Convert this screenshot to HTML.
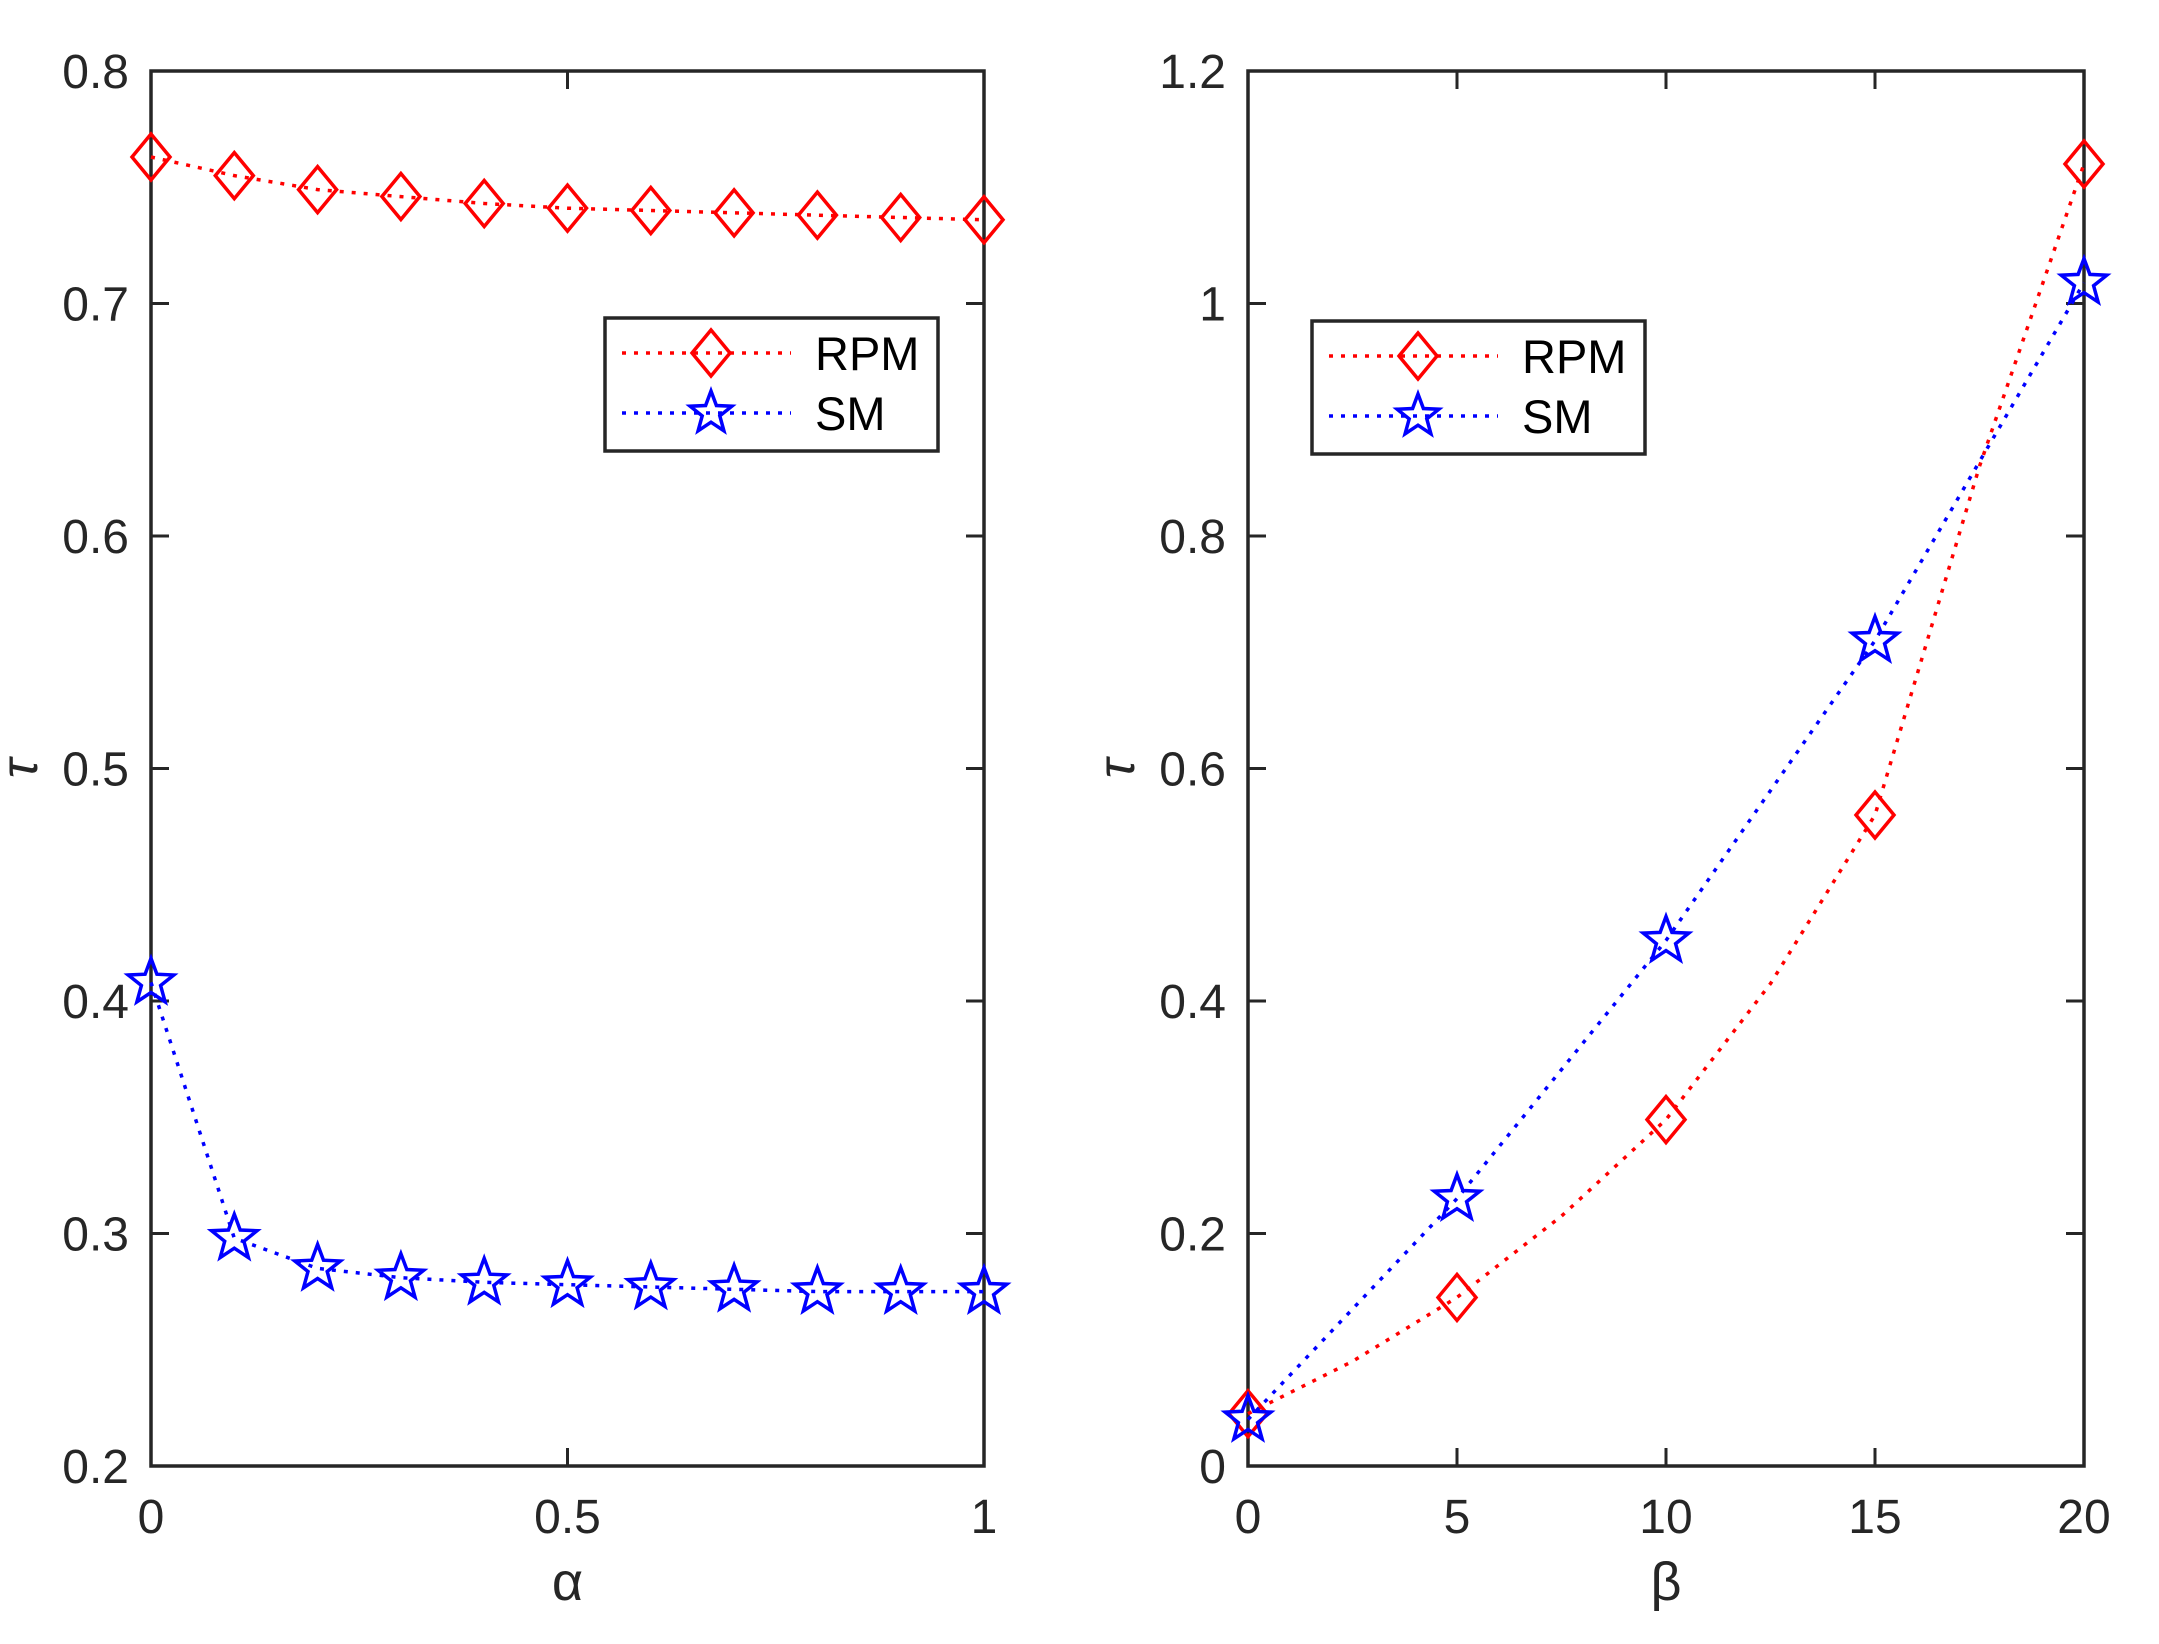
<!DOCTYPE html>
<html><head><meta charset="utf-8"><style>
html,body{margin:0;padding:0;background:#fff;}
svg{display:block;}
text{font-family:"Liberation Sans",Arial,sans-serif;fill:#262626;}
</style></head><body>
<svg id="s" width="2159" height="1644" viewBox="0 0 2159 1644" xmlns="http://www.w3.org/2000/svg"></svg>
<script>
const s=document.getElementById('s');let h='';
function star(cx,cy,R,col){const r=R*0.42;let p=[];for(let i=0;i<10;i++){const a=-Math.PI/2+i*Math.PI/5;const rr=i%2?r:R;p.push((cx+rr*Math.cos(a)).toFixed(1)+','+(cy+rr*Math.sin(a)).toFixed(1));}
return `<polygon points="${p.join(' ')}" fill="none" stroke="${col}" stroke-width="3.5"/>`;}
function dia(cx,cy,col){return `<polygon points="${cx},${cy-23} ${cx+19},${cy} ${cx},${cy+23} ${cx-19},${cy}" fill="none" stroke="${col}" stroke-width="3.5"/>`;}
function axes(x0,x1,y0,y1,xmin,xmax,ymin,ymax,xt,yt,xlab,series,leg){
 const X=v=>x0+(v-xmin)/(xmax-xmin)*(x1-x0), Y=v=>y1-(v-ymin)/(ymax-ymin)*(y1-y0);
 h+=`<rect x="${x0}" y="${y0}" width="${x1-x0}" height="${y1-y0}" fill="none" stroke="#262626" stroke-width="3.5"/>`;
 xt.forEach(t=>{const x=X(t[0]);h+=`<line x1="${x}" y1="${y1}" x2="${x}" y2="${y1-18}" stroke="#262626" stroke-width="3"/><line x1="${x}" y1="${y0}" x2="${x}" y2="${y0+18}" stroke="#262626" stroke-width="3"/><text x="${x}" y="1533" font-size="48" text-anchor="middle">${t[1]}</text>`;});
 yt.forEach(t=>{const y=Y(t[0]);h+=`<line x1="${x0}" y1="${y}" x2="${x0+18}" y2="${y}" stroke="#262626" stroke-width="3"/><line x1="${x1}" y1="${y}" x2="${x1-18}" y2="${y}" stroke="#262626" stroke-width="3"/><text x="${x0-22}" y="${y+17}" font-size="48" text-anchor="end">${t[1]}</text>`;});
 h+=`<text x="${(x0+x1)/2}" y="1600" font-size="54" text-anchor="middle">${xlab}</text>`;
 h+=`<text transform="translate(${x0-114},${(y0+y1)/2}) rotate(-90)" x="0" y="0" font-size="52" text-anchor="middle" font-style="italic">τ</text>`;
 series.forEach(se=>{const pts=se.line.map(d=>X(d[0]).toFixed(1)+','+Y(d[1]).toFixed(1)).join(' ');
  h+=`<polyline points="${pts}" fill="none" stroke="${se.c}" stroke-width="3.5" stroke-dasharray="4,8"/>`;
  se.d.forEach(d=>{h+=se.m=='d'?dia(X(d[0]),Y(d[1]),se.c):star(X(d[0]),Y(d[1]),24,se.c);});});
 const [lx,ly]=leg;
 h+=`<rect x="${lx}" y="${ly}" width="333" height="133" fill="#fff" stroke="#262626" stroke-width="3.5"/>`;
 h+=`<line x1="${lx+17}" y1="${ly+35}" x2="${lx+186}" y2="${ly+35}" stroke="red" stroke-width="3.5" stroke-dasharray="4,8"/>`+dia(lx+106,ly+35,'red');
 h+=`<line x1="${lx+17}" y1="${ly+95}" x2="${lx+186}" y2="${ly+95}" stroke="blue" stroke-width="3.5" stroke-dasharray="4,8"/>`+star(lx+106,ly+95,22,'blue');
 h+=`<text x="${lx+210}" y="${ly+52}" font-size="47" style="fill:#000">RPM</text><text x="${lx+210}" y="${ly+112}" font-size="47" style="fill:#000">SM</text>`;
}
const a=[0,.1,.2,.3,.4,.5,.6,.7,.8,.9,1];
const r1=[.763,.755,.749,.746,.743,.741,.740,.739,.738,.737,.736];
const s1=[.408,.298,.285,.281,.279,.278,.277,.276,.275,.275,.275];
const R1=a.map((x,i)=>[x,r1[i]]), S1=a.map((x,i)=>[x,s1[i]]);
axes(151,984,71,1466,0,1,0.2,0.8,[[0,'0'],[0.5,'0.5'],[1,'1']],
 [[.2,'0.2'],[.3,'0.3'],[.4,'0.4'],[.5,'0.5'],[.6,'0.6'],[.7,'0.7'],[.8,'0.8']],'α',
 [{line:R1,d:R1,c:'red',m:'d'},{line:S1,d:S1,c:'blue',m:'s'}],[605,318]);
const S2=[[0,.04],[5,.23],[10,.452],[15,.71],[20,1.018]];
const R2=[[0,.045],[5,.145],[10,.298],[15,.56],[20,1.12]];
const R2l=[[0,.045],[2.5,.09],[5,.145],[7.5,.215],[10,.298],[12.5,.415],[15,.56],[16,.68],[17.5,.86],[20,1.12]];
axes(1248,2084,71,1466,0,20,0,1.2,[[0,'0'],[5,'5'],[10,'10'],[15,'15'],[20,'20']],
 [[0,'0'],[.2,'0.2'],[.4,'0.4'],[.6,'0.6'],[.8,'0.8'],[1,'1'],[1.2,'1.2']],'β',
 [{line:R2l,d:R2,c:'red',m:'d'},{line:S2,d:S2,c:'blue',m:'s'}],[1312,321]);
s.innerHTML=h;
</script>
</body></html>
